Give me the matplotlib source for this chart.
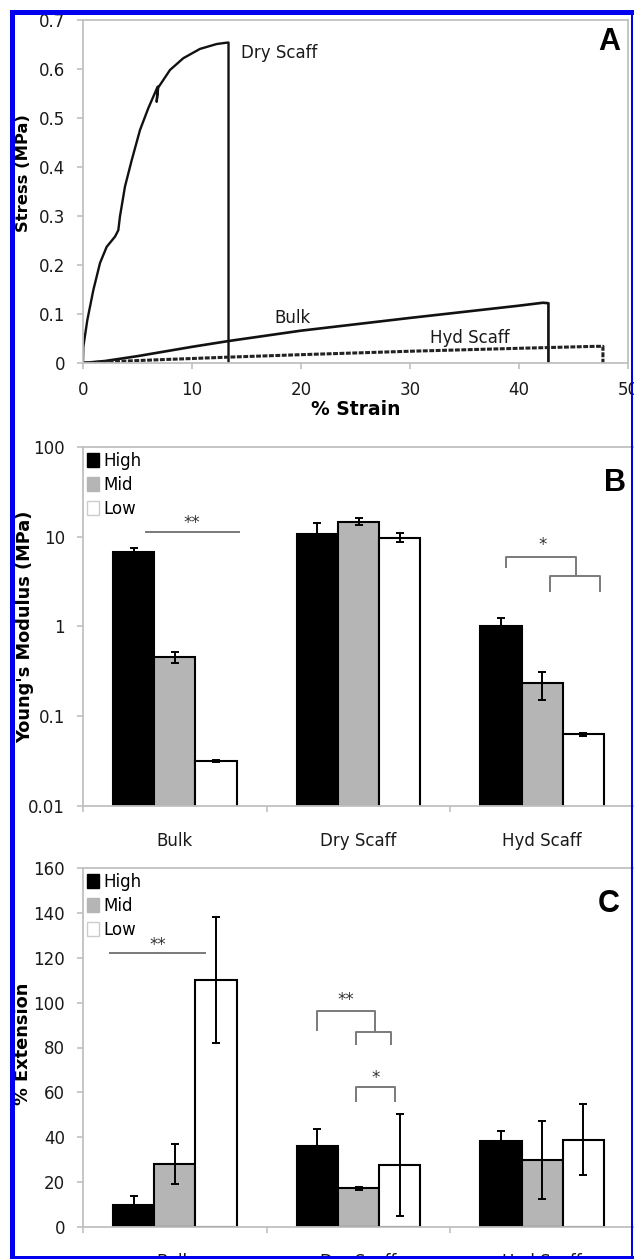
import matplotlib
matplotlib.use("Agg")
import matplotlib.pyplot as plt
from matplotlib.patches import Patch, Rectangle
from matplotlib.ticker import FixedLocator, FuncFormatter, NullLocator
import numpy as np

plt.rcParams['font.family'] = ['DejaVu Sans']

# ---------------- data ----------------
# Panel A: stress-strain curves
dry_strain = [0, 0.03, 0.4, 0.95, 1.56, 2.17, 2.94, 3.24, 3.39, 3.85, 4.47, 5.23, 5.99,
              6.85, 6.76, 6.9, 7.98, 9.2, 10.73, 12.27, 13.18, 13.35, 13.35]
dry_stress = [0, 0.033, 0.088, 0.149, 0.204, 0.237, 0.258, 0.271, 0.299, 0.36, 0.414, 0.4755, 0.52,
              0.564, 0.533, 0.562, 0.598, 0.622, 0.641, 0.651, 0.6537, 0.654, 0]
bulk_strain = [0, 2, 5, 10, 13.4, 20, 30, 40, 42.2, 42.7, 42.7]
bulk_stress = [0, 0.004, 0.014, 0.033, 0.045, 0.066, 0.092, 0.117, 0.123, 0.122, 0]
hyd_strain = [0, 5, 13.4, 20, 30, 40, 47.0, 47.7, 47.7]
hyd_stress = [0, 0.005, 0.012, 0.017, 0.024, 0.030, 0.034, 0.034, 0]

categories = ["Bulk", "Dry Scaff", "Hyd Scaff"]
series = ["High", "Mid", "Low"]

# Panel B: Young's modulus (MPa)
mod_high = [6.7, 10.7, 1.0]
mod_mid = [0.46, 14.7, 0.233]
mod_low = [0.0317, 9.8, 0.063]
mod_high_err = [0.7, 3.4, 0.25]
mod_mid_err = [0.065, 1.3, 0.082]
mod_low_err = [0.001, 1.1, 0.002]

# Panel C: % extension
ext_high = [10, 36, 38.5]
ext_mid = [28.1, 17.2, 29.9]
ext_low = [110, 27.6, 38.8]
ext_high_err = [4, 7.8, 4.5]
ext_mid_err = [8.8, 0.8, 17.2]
ext_low_err = [28, 22.8, 15.8]

colors = ["black", "#b5b5b5", "white"]

W, H = 634, 1259
fig = plt.figure(figsize=(W / 100, H / 100), dpi=100)
fig.patch.set_facecolor("white")

def ax_rect(left, right, top, bottom):
    return [left / W, 1 - bottom / H, (right - left) / W, (bottom - top) / H]

spine_c = "#c0c0c0"

def style_axes(ax, right_spine=True):
    for s in ["top", "left", "bottom", "right"]:
        ax.spines[s].set_color(spine_c)
        ax.spines[s].set_linewidth(1.3)
    ax.spines["right"].set_visible(right_spine)
    ax.tick_params(axis="both", colors=spine_c, labelcolor="#1a1a1a", labelsize=12,
                   length=4, width=1.2, direction="out")

# ---------------- Panel A ----------------
axA = fig.add_axes(ax_rect(83, 628, 20, 363))
style_axes(axA)
axA.plot(dry_strain, dry_stress, color="#111111", lw=1.7)
axA.plot(bulk_strain, bulk_stress, color="#111111", lw=1.9)
axA.plot(hyd_strain, hyd_stress, color="#222222", lw=2.2, linestyle=(0, (1.6, 0.5)))
axA.set_xlim(0, 50)
axA.set_ylim(0, 0.7)
axA.xaxis.set_major_locator(FixedLocator([0, 10, 20, 30, 40, 50]))
axA.yaxis.set_major_locator(FixedLocator([0, 0.1, 0.2, 0.3, 0.4, 0.5, 0.6, 0.7]))
axA.yaxis.set_major_formatter(FuncFormatter(lambda v, p: "0" if v == 0 else f"{v:g}"))
axA.tick_params(axis="y", pad=9)
axA.tick_params(axis="x", pad=9)
axA.set_xlabel("% Strain", fontsize=13.5, fontweight="bold")
axA.xaxis.label.set_va("center")
axA.xaxis.set_label_coords(0.5, -0.137)
axA.set_ylabel("Stress (MPa)", fontsize=11.8, fontweight="bold")
axA.yaxis.label.set_va("center")
axA.yaxis.set_label_coords(-0.110, 0.554)
axA.text(14.5, 0.632, "Dry Scaff", fontsize=12, va="center", ha="left", color="#1a1a1a")
axA.text(19.2, 0.092, "Bulk", fontsize=12, va="center", ha="center", color="#1a1a1a")
axA.text(35.5, 0.051, "Hyd Scaff", fontsize=12, va="center", ha="center", color="#1a1a1a")
axA.text(0.965, 0.935, "A", transform=axA.transAxes, fontsize=22, fontweight="bold",
         family="Liberation Sans", ha="center", va="center")

# ---------------- bar panels ----------------
x = np.arange(len(categories))
bw = 0.224
offsets = [-bw, 0, bw]

def bar_panel(ax, vals, errs):
    for i, (v, e, c, name) in enumerate(zip(vals, errs, colors, series)):
        ax.bar(x + offsets[i], v, bw, color=c, edgecolor="black", linewidth=1.5, zorder=2,
               label=name)
        ax.errorbar(x + offsets[i], v, yerr=e, fmt="none", ecolor="black", elinewidth=1.4,
                    capsize=3, capthick=1.4, zorder=3)
    ax.set_xlim(-0.5, 2.5)
    ax.xaxis.set_major_locator(FixedLocator(list(x)))
    ax.set_xticklabels(categories)
    ax.xaxis.set_minor_locator(FixedLocator([-0.5, 0.5, 1.5]))
    ax.tick_params(axis="x", which="major", length=0, pad=19)
    ax.tick_params(axis="x", which="minor", length=4, width=1.2, colors=spine_c)
    ax.tick_params(axis="y", pad=9)
    handles = [Patch(facecolor="black", edgecolor="black"),
               Patch(facecolor="#b5b5b5", edgecolor="#b5b5b5"),
               Patch(facecolor="white", edgecolor="#cccccc")]
    ax.legend(handles, series, loc="upper left", bbox_to_anchor=(-0.005, 1.005), frameon=False,
              fontsize=12, handlelength=0.75, handleheight=0.9, handletextpad=0.25,
              labelspacing=0.35, borderaxespad=0.2, borderpad=0.2)

def sig_lines(ax, segs, color="#7a7a7a"):
    for xs, ys in segs:
        ax.plot(xs, ys, color=color, lw=1.4, zorder=4, solid_capstyle="butt")

# Panel B
axB = fig.add_axes(ax_rect(83, 634, 447, 806))
style_axes(axB, right_spine=False)
axB.set_yscale("log")
bar_panel(axB, [mod_high, mod_mid, mod_low], [mod_high_err, mod_mid_err, mod_low_err])
axB.set_ylim(0.01, 100)
axB.yaxis.set_major_locator(FixedLocator([0.01, 0.1, 1, 10, 100]))
axB.yaxis.set_major_formatter(FuncFormatter(lambda v, p: f"{v:g}"))
axB.yaxis.set_minor_locator(NullLocator())
axB.set_ylabel("Young's Modulus (MPa)", fontsize=12.8, fontweight="bold")
axB.yaxis.label.set_va("center")
axB.yaxis.set_label_coords(-0.105, 0.5)
sig_lines(axB, [([-0.165, 0.355], [11.4, 11.4]),
                ([1.803, 1.803, 2.184, 2.184], [4.49, 6.0, 6.0, 3.68]),
                ([2.042, 2.042, 2.314, 2.314], [2.4, 3.68, 3.68, 2.4])])
axB.text(0.093, 14.4, "**", fontsize=12, ha="center", va="center", color="#333333")
axB.text(2.001, 8.1, "*", fontsize=12, ha="center", va="center", color="#333333")
axB.text(0.965, 0.9, "B", transform=axB.transAxes, fontsize=22, fontweight="bold",
         family="Liberation Sans", ha="center", va="center")

# Panel C
axC = fig.add_axes(ax_rect(83, 634, 868, 1227))
style_axes(axC, right_spine=False)
bar_panel(axC, [ext_high, ext_mid, ext_low], [ext_high_err, ext_mid_err, ext_low_err])
axC.set_ylim(0, 160)
axC.yaxis.set_major_locator(FixedLocator(list(range(0, 161, 20))))
axC.set_ylabel("% Extension", fontsize=12.8, fontweight="bold")
axC.yaxis.label.set_va("center")
axC.yaxis.set_label_coords(-0.109, 0.51)
sig_lines(axC, [([-0.361, 0.172], [122, 122]),
                ([0.772, 0.772, 1.092, 1.092], [87.3, 96.4, 96.4, 87.0]),
                ([0.988, 0.988, 1.175, 1.175], [81, 87.0, 87.0, 81]),
                ([0.988, 0.988, 1.201, 1.201], [55.6, 62.2, 62.2, 55.6])])
axC.text(-0.092, 125.7, "**", fontsize=12, ha="center", va="center", color="#333333")
axC.text(0.932, 101, "**", fontsize=12, ha="center", va="center", color="#333333")
axC.text(1.092, 66.4, "*", fontsize=12, ha="center", va="center", color="#333333")
axC.text(0.955, 0.9, "C", transform=axC.transAxes, fontsize=22, fontweight="bold",
         family="Liberation Sans", ha="center", va="center")

# ---------------- blue frame ----------------
def fig_rect(x0, y0, x1, y1):
    r = Rectangle((x0 / W, 1 - y1 / H), (x1 - x0) / W, (y1 - y0) / H,
                  transform=fig.transFigure, facecolor="#0000ee", edgecolor="none", zorder=100)
    fig.add_artist(r)

fig_rect(10, 10, 15, 1259)
fig_rect(10, 10, 634, 15)
fig_rect(10, 1256, 634, 1259)
fig_rect(631, 10, 633, 1259)

fig.savefig("out.png", dpi=100, facecolor="white")
